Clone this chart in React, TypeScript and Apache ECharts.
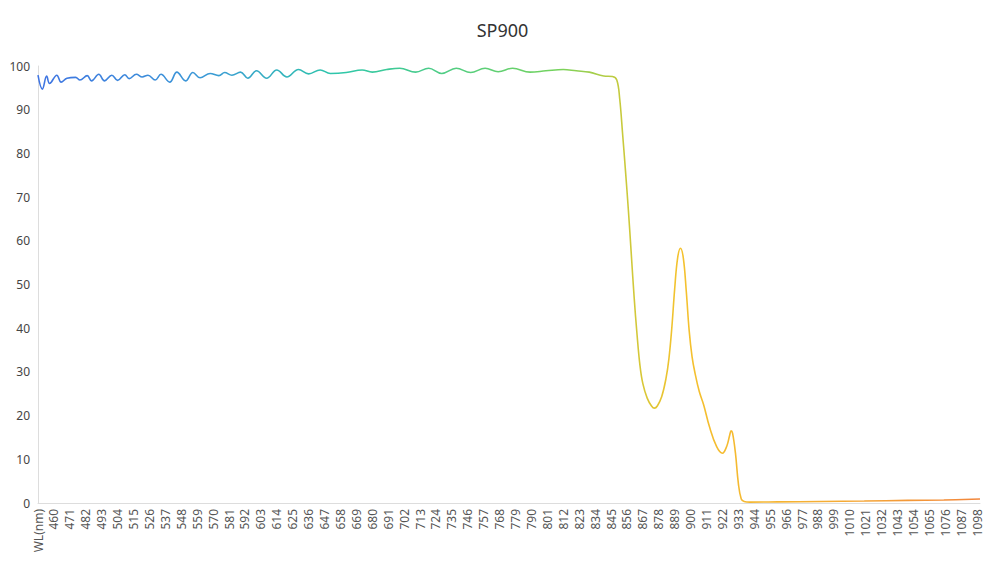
import React, { useEffect, useRef } from 'react';
import * as echarts from 'echarts';

// x axis categories: header cell followed by wavelengths 450..1100 nm
const headerLabel = 'WL(nm)';
const firstNm = 450;
const lastNm = 1100;
const categories: string[] = [headerLabel];
for (let nm = firstNm; nm <= lastNm; nm++) categories.push(String(nm));

// transmittance samples (nm, %)
const sampleNm: string[] = [
    headerLabel, '452', '455', '457', '462', '465', '469', '475', '478', '483',
    '486', '491', '495', '500', '504', '509', '512', '517', '521', '525',
    '530', '534', '540', '545', '551', '556', '561', '568', '574', '578',
    '583', '589', '594', '600', '607', '614', '621', '629', '636', '644',
    '651', '662', '673', '680', '690', '699', '710', '719', '728', '738',
    '748', '758', '767', '777', '789', '800', '812', '821', '830', '840',
    '846', '849', '851', '853', '855', '857', '859', '861', '863', '865',
    '867', '870', '873', '875', '877', '880', '883', '885', '887', '889',
    '891', '893', '895', '897', '899', '901', '903', '906', '909', '913',
    '918', '922', '925', '927', '928', '929', '931', '933', '935', '937',
    '941', '960', '990', '1020', '1050', '1075', '1100',
];
const sampleValue: number[] = [
    97.9, 94.7, 97.7, 96.0, 97.9, 96.3, 97.2, 97.4, 96.8, 97.8,
    96.6, 98.1, 96.6, 97.9, 96.7, 98.0, 97.1, 98.1, 97.5, 97.9,
    96.8, 98.1, 96.3, 98.6, 96.6, 98.5, 97.3, 98.3, 97.8, 98.5,
    97.9, 98.6, 97.2, 98.9, 97.2, 99.1, 97.5, 99.2, 98.2, 99.1,
    98.3, 98.5, 99.1, 98.6, 99.2, 99.5, 98.6, 99.5, 98.3, 99.5,
    98.5, 99.5, 98.7, 99.5, 98.6, 98.9, 99.2, 98.9, 98.6, 97.7,
    97.6, 96.8, 92.5, 84.5, 76.0, 67.0, 57.0, 47.0, 38.5, 31.5,
    27.3, 24.0, 22.2, 21.7, 22.2, 24.3, 28.5, 33.0, 40.0, 49.0,
    56.0, 58.3, 56.0, 48.5, 39.5, 33.5, 29.8, 25.5, 22.5, 17.5,
    12.9, 11.4, 13.0, 15.5, 16.5, 16.0, 11.4, 4.5, 0.9, 0.35,
    0.2, 0.25, 0.35, 0.45, 0.6, 0.7, 0.9,
];

const yTicks = { min: 0, max: 100, interval: 10 };

const App: React.FC = () => {
    const chartRef = useRef<HTMLDivElement>(null);

    useEffect(() => {
        if (!chartRef.current) return;
        const chart = echarts.init(chartRef.current, undefined, { renderer: 'svg' });

        const font = '"Noto Sans", "Open Sans", sans-serif';

        const option: echarts.EChartsOption = {
            animation: false,
            textStyle: { fontFamily: font },
            title: {
                text: 'SP900',
                left: 'center',
                top: 16,
                textStyle: { fontSize: 18, fontWeight: 'normal', color: '#333', fontFamily: font },
            },
            grid: { left: 38, right: 25, top: 66, bottom: 67, containLabel: false },
            xAxis: {
                type: 'category',
                data: categories,
                boundaryGap: false,
                axisLine: { lineStyle: { color: '#ddd' } },
                axisTick: { show: false },
                axisLabel: {
                    rotate: 90,
                    interval: 10,
                    color: '#555',
                    fontSize: 12,
                    margin: 6,
                },
            },
            yAxis: {
                type: 'value',
                min: yTicks.min,
                max: yTicks.max,
                interval: yTicks.interval,
                axisLine: { show: true, lineStyle: { color: '#ddd' } },
                axisTick: { show: false },
                splitLine: { show: false },
                axisLabel: { color: '#444', fontSize: 12 },
            },
            series: [
                {
                    type: 'line',
                    data: sampleNm.map((nm, i) => [nm, sampleValue[i]]),
                    smooth: 0.4,
                    showSymbol: false,
                    lineStyle: {
                        width: 1.6,
                        color: new echarts.graphic.LinearGradient(0, 0, 1, 0, [
                            { offset: 0, color: '#3f74e2' },
                            { offset: 0.18, color: '#3b9ad6' },
                            { offset: 0.32, color: '#2ec7a9' },
                            { offset: 0.55, color: '#74d35e' },
                            { offset: 0.62, color: '#c8ca3c' },
                            { offset: 0.68, color: '#f4c22e' },
                            { offset: 0.85, color: '#f5ab35' },
                            { offset: 1, color: '#f2863c' },
                        ]),
                    },
                },
            ],
        };

        chart.setOption(option);

        return () => {
            chart.dispose();
        };
    }, []);

    return (
        <div
            ref={chartRef}
            style={{ position: 'absolute', left: 0, top: 0, width: 1005, height: 570, background: '#fff' }}
        />
    );
};

export default App;
